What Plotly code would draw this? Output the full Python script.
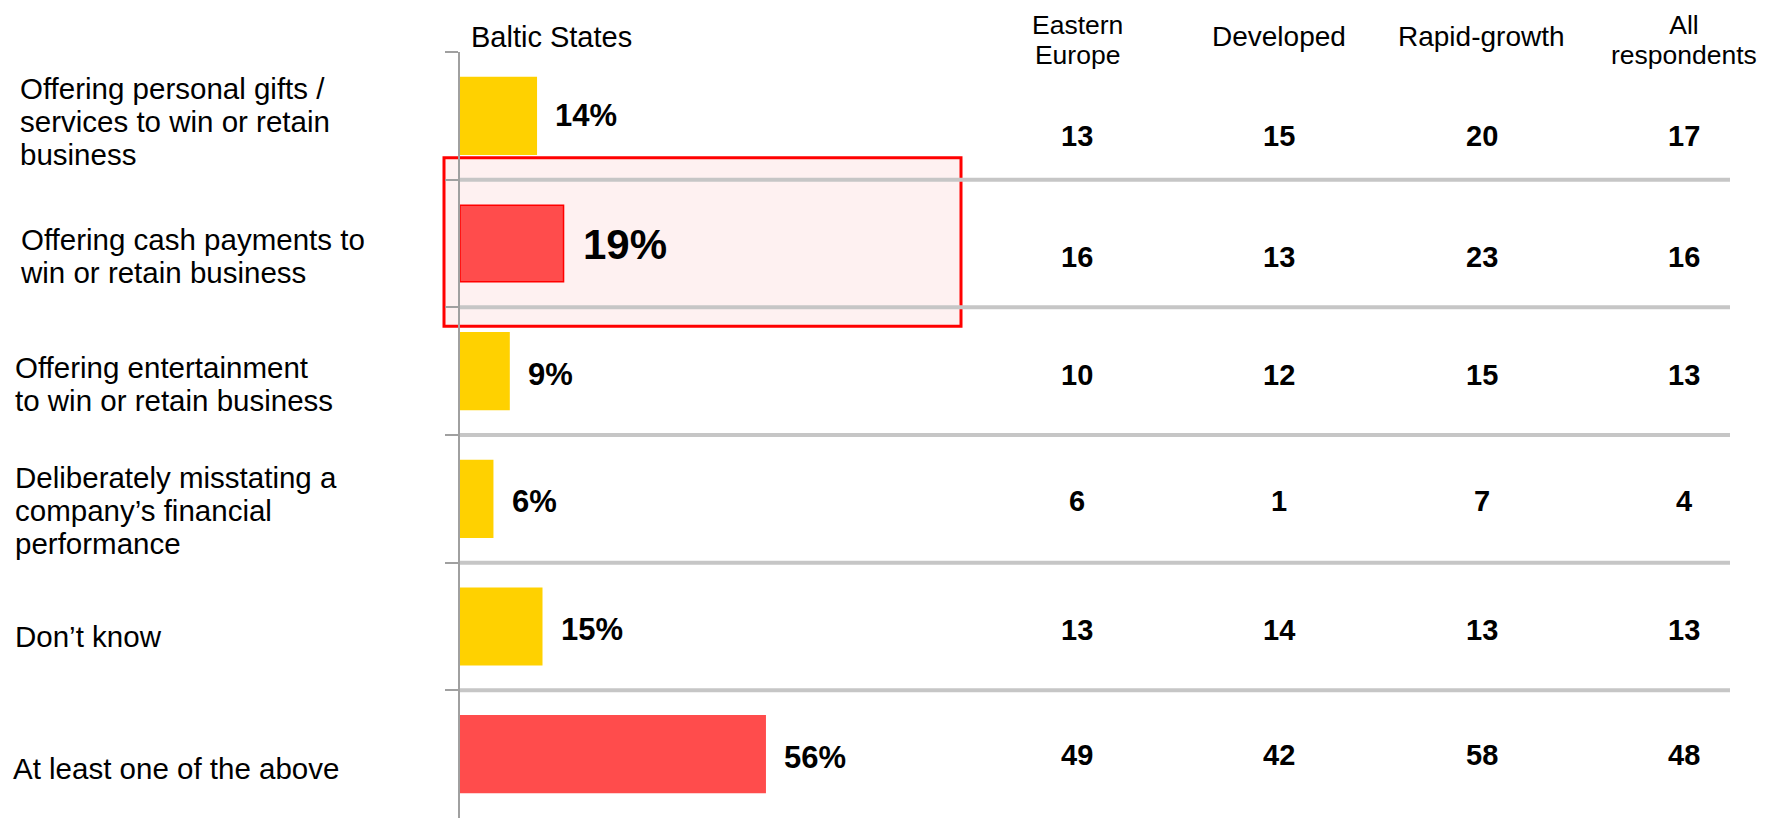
import plotly.graph_objects as go

# ---------------- data ----------------
categories = [
    "Offering personal gifts /<br>services to win or retain<br>business",
    "Offering cash payments to<br>win or retain business",
    "Offering entertainment<br>to win or retain business",
    "Deliberately misstating a<br>company’s financial<br>performance",
    "Don’t know",
    "At least one of the above",
]
baltic_states = [14, 19, 9, 6, 15, 56]
baltic_labels = ["14%", "19%", "9%", "6%", "15%", "56%"]
series_name = "Baltic States"

column_headers = ["Eastern<br>Europe", "Developed", "Rapid-growth", "All<br>respondents"]
eastern_europe = [13, 16, 10, 6, 13, 49]
developed = [15, 13, 12, 1, 14, 42]
rapid_growth = [20, 23, 15, 7, 13, 58]
all_respondents = [17, 16, 13, 4, 13, 48]
table_columns = [eastern_europe, developed, rapid_growth, all_respondents]

highlight_index = 1

# ---------------- styles / layout ----------------
OFF = 8  # default page body margin
W, H = 1777 - OFF, 818 - OFF
ML, MR, MT, MB = 460 - OFF, 0, 52 - OFF, 0
PW, PH = W - ML - MR, H - MT - MB
PX_PER_PCT = 5.45
FONT = "Arial, Liberation Sans, sans-serif"
YELLOW = "#FFD100"
RED = "#FF4C4C"
GRID = "#C6C6C6"
AXIS = "#A0A0A0"

bar_colors = [YELLOW, RED, YELLOW, YELLOW, YELLOW, RED]
bar_line_colors = [YELLOW, "#FF0000", YELLOW, YELLOW, YELLOW, RED]
label_x_px = [18, 18, 13, 13, 13, 11]
label_offset = [6, 12, 13, 12, 10, 14]
label_line_h = 33
label_size = 29.5
value_yshift = [0, -1, -3, -3, -3, -3]
value_size = [31, 42, 31, 31, 31, 31]
table_offset = [20, 13, 4, 2, 3, 1]
table_x0, table_dx = 1077, 202.3
header_line_h = 30
header_size_1 = 28      # single-line headers
header_size_2 = 26.5    # two-line headers
header_y_1, header_y_2 = 37, 40
LINE_SPACING = 1.3  # plotly's multi-line spacing factor


def px(p):
    # reference-page pixel -> paper fraction
    return (p - OFF - ML) / PW


def py(p):
    return (H - MB - (p - OFF)) / PH


def tight_text(text, size):
    # glyphs at `size`, line pitch controlled by the annotation's base font size
    return "<br>".join('<span style="font-size:%spx">%s</span>' % (size, ln)
                       for ln in text.split("<br>"))


fig = go.Figure()
fig.add_trace(go.Bar(
    x=baltic_states, y=categories, orientation="h", name=series_name,
    marker=dict(color=bar_colors, line=dict(color=bar_line_colors, width=1.5)),
    hoverinfo="x+y", showlegend=False,
))

ann = []
# category labels (left)
for i, cat in enumerate(categories):
    ann.append(dict(
        xref="paper", x=px(label_x_px[i]), xanchor="left", align="left",
        yref="y", y=cat, yanchor="middle", yshift=-label_offset[i],
        text=tight_text(cat, label_size), showarrow=False,
        font=dict(family=FONT, size=label_line_h / LINE_SPACING, color="#000000"),
    ))

# value labels
for i, cat in enumerate(categories):
    ann.append(dict(
        xref="x", x=baltic_states[i], xanchor="left", xshift=17,
        yref="y", y=cat, yanchor="middle", yshift=value_yshift[i],
        text="<b>%s</b>" % baltic_labels[i], showarrow=False,
        font=dict(family=FONT, size=value_size[i], color="#000000"),
    ))

# table numbers
for j, col in enumerate(table_columns):
    for i, cat in enumerate(categories):
        ann.append(dict(
            xref="paper", x=px(table_x0 + j * table_dx), xanchor="center",
            yref="y", y=cat, yanchor="middle", yshift=-table_offset[i],
            text="<b>%d</b>" % col[i], showarrow=False,
            font=dict(family=FONT, size=29, color="#000000"),
        ))

# headers
ann.append(dict(
    xref="paper", x=px(469), xanchor="left", yref="paper", y=py(header_y_1), yanchor="middle",
    text=series_name, showarrow=False, font=dict(family=FONT, size=29, color="#000000"),
))
for j, hdr in enumerate(column_headers):
    two = "<br>" in hdr
    ann.append(dict(
        xref="paper", x=px(table_x0 + j * table_dx), xanchor="center", align="center",
        yref="paper", y=py(header_y_2 if two else header_y_1), yanchor="middle",
        text=tight_text(hdr, header_size_2 if two else header_size_1), showarrow=False,
        font=dict(family=FONT, size=header_line_h / LINE_SPACING, color="#000000"),
    ))

shapes = []
# highlight box
cat_h = PH / len(categories)
shapes.append(dict(
    type="rect", layer="below", xref="paper", yref="y",
    x0=px(444), x1=px(961),
    y0=highlight_index - 0.5 - 22 / cat_h, y1=highlight_index + 0.5 + 19 / cat_h,
    fillcolor="#FEF1F1", line=dict(color="#FF0000", width=3),
))
# row separators
for i in range(len(categories) - 1):
    shapes.append(dict(
        type="line", layer="below", xref="paper", yref="y",
        x0=0, x1=px(1730), y0=i + 0.5, y1=i + 0.5,
        line=dict(color=GRID, width=4),
    ))

fig.update_layout(
    width=W, height=H,
    margin=dict(l=ML, r=MR, t=MT, b=MB, pad=0),
    paper_bgcolor="white", plot_bgcolor="rgba(0,0,0,0)",
    bargap=0.4,
    annotations=ann, shapes=shapes,
    xaxis=dict(range=[0, PW / PX_PER_PCT], visible=False, fixedrange=True),
    yaxis=dict(
        autorange="reversed", showticklabels=False, showgrid=False, zeroline=False,
        showline=True, linecolor=AXIS, linewidth=2,
        ticks="outside", tickson="boundaries", ticklen=13, tickcolor=AXIS, tickwidth=2,
        fixedrange=True,
    ),
    font=dict(family=FONT),
)

fig.write_html("out.html")
